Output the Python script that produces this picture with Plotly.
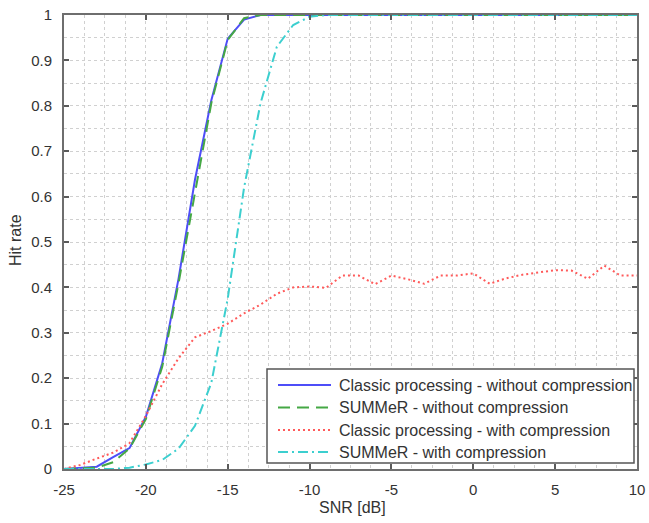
import plotly.graph_objects as go

# SNR sweep in dB
snr = list(range(-25, 11))

# Hit rate per SNR for each processing chain
classic_no_comp = [0.0, 0.002, 0.005, 0.026, 0.046, 0.115, 0.233, 0.42, 0.637, 0.812, 0.948, 0.99,
                   1.0, 1.0, 1.0, 1.0, 1.0, 1.0, 1.0, 1.0, 1.0, 1.0, 1.0, 1.0, 1.0, 1.0, 1.0, 1.0,
                   1.0, 1.0, 1.0, 1.0, 1.0, 1.0, 1.0, 1.0]
summer_no_comp = [0.0, 0.001, 0.003, 0.015, 0.045, 0.11, 0.225, 0.41, 0.607, 0.806, 0.945, 0.993,
                  1.0, 1.0, 1.0, 1.0, 1.0, 1.0, 1.0, 1.0, 1.0, 1.0, 1.0, 1.0, 1.0, 1.0, 1.0, 1.0,
                  1.0, 1.0, 1.0, 1.0, 1.0, 1.0, 1.0, 1.0]
classic_comp = [0.0, 0.009, 0.023, 0.036, 0.057, 0.117, 0.187, 0.244, 0.29, 0.304, 0.32, 0.343,
                0.362, 0.386, 0.40, 0.402, 0.399, 0.426, 0.426, 0.407, 0.426, 0.418, 0.408, 0.426,
                0.426, 0.431, 0.408, 0.42, 0.428, 0.433, 0.438, 0.437, 0.419, 0.448, 0.426, 0.426]
summer_comp = [0.0, 0.0, 0.0, 0.0, 0.003, 0.01, 0.02, 0.045, 0.095, 0.19, 0.375, 0.62, 0.805,
               0.93, 0.978, 0.996, 1.0, 1.0, 1.0, 1.0, 1.0, 1.0, 1.0, 1.0, 1.0, 1.0, 1.0, 1.0,
               1.0, 1.0, 1.0, 1.0, 1.0, 1.0, 1.0, 1.0]

series_names = [
    "Classic processing - without compression",
    "SUMMeR - without compression",
    "Classic processing - with compression",
    "SUMMeR - with compression",
]

x_ticks = [-25, -20, -15, -10, -5, 0, 5, 10]
x_tick_labels = ["-25", "-20", "-15", "-10", "-5", "0", "5", "10"]
y_ticks = [0, 0.1, 0.2, 0.3, 0.4, 0.5, 0.6, 0.7, 0.8, 0.9, 1]
y_tick_labels = ["0", "0.1", "0.2", "0.3", "0.4", "0.5", "0.6", "0.7", "0.8", "0.9", "1"]

styles = [
    dict(color="#4e4ef8", width=2, dash="solid"),
    dict(color="#45a845", width=2, dash="12px,7px"),
    dict(color="#ff5a5a", width=2, dash="2px,3px"),
    dict(color="#3ccfcf", width=2, dash="10px,4px,2px,4px"),
]

# figure geometry (pixels)
W, H = 649, 523
ML, MR, MT, MB = 64, 12, 15, 54
PW, PH = W - ML - MR, H - MT - MB


def px_x(px):
    return (px - ML) / PW


def px_y(py):
    return (H - MB - py) / PH


fig = go.Figure()
data = [classic_no_comp, summer_no_comp, classic_comp, summer_comp]
for values, name, style in zip(data, series_names, styles):
    fig.add_trace(go.Scatter(x=snr, y=values, mode="lines", name=name, line=style,
                             showlegend=False))

font_family = "Arial, Liberation Sans, sans-serif"
text_color = "#333333"
axis_common = dict(
    showline=True, linecolor="#6e6e6e", linewidth=2, mirror="ticks",
    ticks="inside", ticklen=5, tickcolor="#5a5a5a", tickwidth=1.5,
    showgrid=True, gridcolor="#d0d0d0", griddash="dot", gridwidth=1,
    zeroline=False, automargin=False,
    tickfont=dict(family=font_family, size=15, color=text_color),
)

# legend box drawn in the lower right corner of the axes
box_left, box_right, box_top, box_bottom = 267, 634, 369, 463
row_y = [385, 407.5, 430, 452]
shapes = [dict(type="rect", xref="paper", yref="paper", layer="above",
               x0=px_x(box_left), x1=px_x(box_right), y0=px_y(box_bottom), y1=px_y(box_top),
               fillcolor="white", line=dict(color="#555555", width=1.5))]
annotations = []
for name, style, ry in zip(series_names, styles, row_y):
    shapes.append(dict(type="line", xref="paper", yref="paper", layer="above",
                       x0=px_x(278), x1=px_x(331), y0=px_y(ry), y1=px_y(ry),
                       line=style))
    annotations.append(dict(text=name, xref="paper", yref="paper", x=px_x(337), y=px_y(ry),
                            xanchor="left", yanchor="middle", showarrow=False,
                            font=dict(family=font_family, size=16, color=text_color)))

# axis titles
annotations.append(dict(text="SNR [dB]", xref="paper", yref="paper", x=px_x(352), y=px_y(507),
                        xanchor="center", yanchor="middle", showarrow=False,
                        font=dict(family=font_family, size=16, color=text_color)))
annotations.append(dict(text="Hit rate", xref="paper", yref="paper", x=px_x(16), y=px_y(240),
                        xanchor="center", yanchor="middle", showarrow=False, textangle=-90,
                        font=dict(family=font_family, size=16, color=text_color)))

fig.update_layout(
    width=W, height=H,
    margin=dict(l=ML, r=MR, t=MT, b=MB),
    paper_bgcolor="white", plot_bgcolor="white",
    font=dict(family=font_family, size=15, color=text_color),
    xaxis=dict(
        range=[-25, 10], tickvals=x_ticks, ticktext=x_tick_labels,
        minor=dict(dtick=1.25, tick0=-25, showgrid=True, gridcolor="#d0d0d0", griddash="dot", ticks=""),
        ticklabelstandoff=6,
        **axis_common,
    ),
    yaxis=dict(
        range=[0, 1], tickvals=y_ticks, ticktext=y_tick_labels,
        minor=dict(dtick=0.05, tick0=0, showgrid=True, gridcolor="#d0d0d0", griddash="dot", ticks=""),
        ticklabelstandoff=7,
        **axis_common,
    ),
    shapes=shapes,
    annotations=annotations,
    showlegend=False,
)

fig.write_html("out.html")
